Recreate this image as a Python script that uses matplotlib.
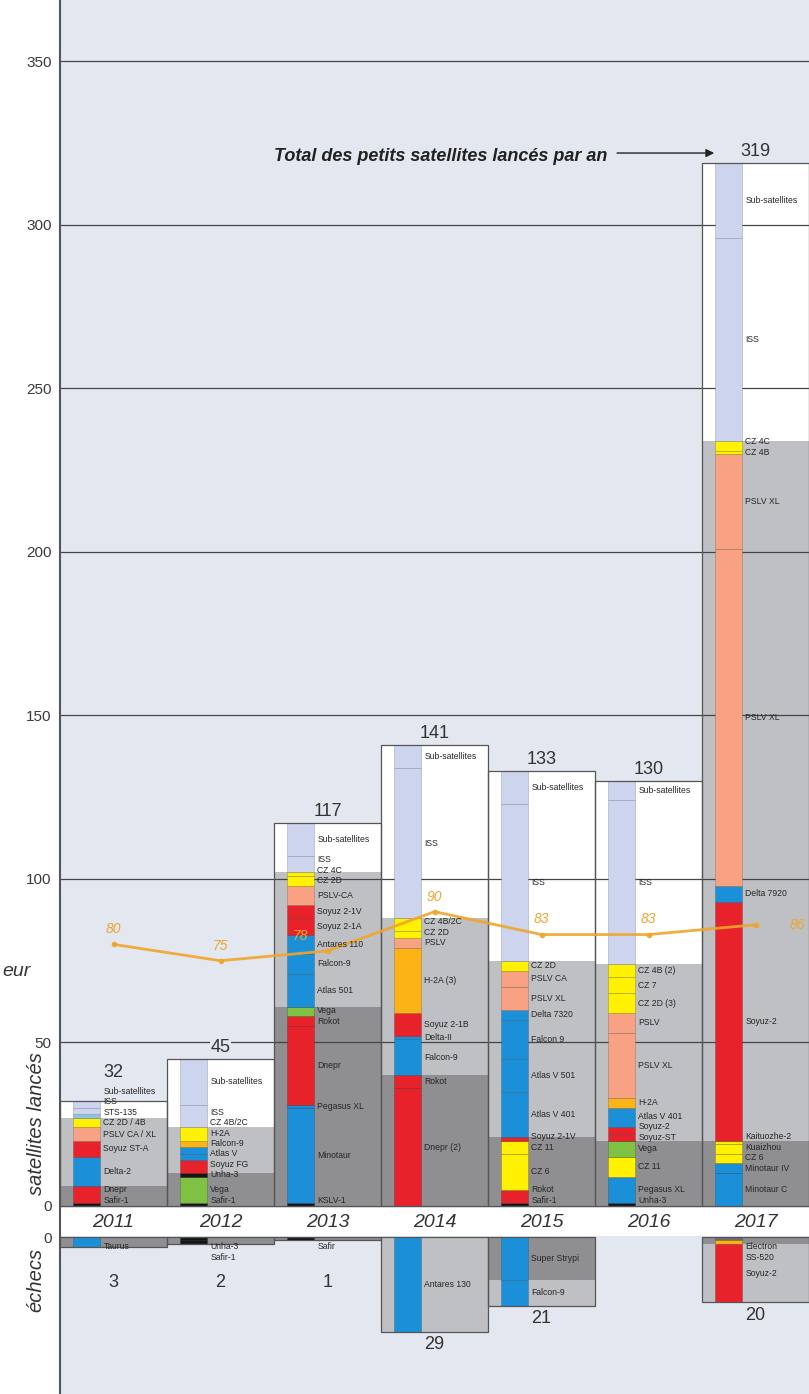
import matplotlib
matplotlib.use('Agg')
import matplotlib.pyplot as plt

plt.rcParams['font.family'] = ['Liberation Sans', 'DejaVu Sans']

years = ['2011', '2012', '2013', '2014', '2015', '2016', '2017']
totals = [32, 45, 117, 141, 133, 130, 319]
fail_totals = [3, 2, 1, 29, 21, 0, 20]
average = [80, 75, 78, 90, 83, 83, 86]

# (lanceur, nombre, pays, groupe) - groupe : d = dedie, r = passager, i = ISS / sous-satellites
launches_2011 = [
    ('Safir-1', 1, 'ir', 'd'),
    ('Dnepr', 5, 'ru', 'd'),
    ('Delta-2', 9, 'us', 'r'),
    ('Soyuz ST-A', 5, 'ru', 'r'),
    ('PSLV CA / XL', 4, 'in', 'r'),
    ('CZ 2D / 4B', 3, 'cn', 'r'),
    ('STS-135', 1, 'sts', 'i'),
    ('ISS', 2, 'iss', 'i'),
    ('Sub-satellites', 2, 'iss', 'i'),
]
launches_2012 = [
    ('Safir-1', 1, 'ir', 'd'),
    ('Vega', 8, 'eu', 'd'),
    ('Unha-3', 1, 'kp', 'd'),
    ('Soyuz FG', 4, 'ru', 'r'),
    ('Atlas V', 2, 'us', 'r'),
    ('Falcon-9', 2, 'us', 'r'),
    ('H-2A', 2, 'jp', 'r'),
    ('CZ 4B/2C', 4, 'cn', 'r'),
    ('ISS', 7, 'iss', 'i'),
    ('Sub-satellites', 14, 'iss', 'i'),
]
launches_2013 = [
    ('KSLV-1', 1, 'kr', 'd'),
    ('Minotaur', 29, 'us', 'd'),
    ('Pegasus XL', 1, 'us', 'd'),
    ('Dnepr', 24, 'ru', 'd'),
    ('Rokot', 3, 'ru', 'd'),
    ('Vega', 3, 'eu', 'd'),
    ('Atlas 501', 10, 'us', 'r'),
    ('Falcon-9', 6, 'us', 'r'),
    ('Antares 110', 6, 'us', 'r'),
    ('Soyuz 2-1A', 5, 'ru', 'r'),
    ('Soyuz 2-1V', 4, 'ru', 'r'),
    ('PSLV-CA', 6, 'in', 'r'),
    ('CZ 2D', 3, 'cn', 'r'),
    ('CZ 4C', 1, 'cn', 'r'),
    ('ISS', 5, 'iss', 'i'),
    ('Sub-satellites', 10, 'iss', 'i'),
]
launches_2014 = [
    ('Dnepr (2)', 36, 'ru', 'd'),
    ('Rokot', 4, 'ru', 'd'),
    ('Falcon-9', 11, 'us', 'r'),
    ('Delta-II', 1, 'us', 'r'),
    ('Soyuz 2-1B', 7, 'ru', 'r'),
    ('H-2A (3)', 20, 'jp', 'r'),
    ('PSLV', 3, 'in', 'r'),
    ('CZ 2D', 2, 'cn', 'r'),
    ('CZ 4B/2C', 4, 'cn', 'r'),
    ('ISS', 46, 'iss', 'i'),
    ('Sub-satellites', 7, 'iss', 'i'),
]
launches_2015 = [
    ('Safir-1', 1, 'ir', 'd'),
    ('Rokot', 4, 'ru', 'd'),
    ('CZ 6', 11, 'cn', 'd'),
    ('CZ 11', 4, 'cn', 'd'),
    ('Soyuz 2-1V', 1, 'ru', 'd'),
    ('Atlas V 401', 14, 'us', 'r'),
    ('Atlas V 501', 10, 'us', 'r'),
    ('Falcon 9', 12, 'us', 'r'),
    ('Delta 7320', 3, 'us', 'r'),
    ('PSLV XL', 7, 'in', 'r'),
    ('PSLV CA', 5, 'in', 'r'),
    ('CZ 2D', 3, 'cn', 'r'),
    ('ISS', 48, 'iss', 'i'),
    ('Sub-satellites', 10, 'iss', 'i'),
]
launches_2016 = [
    ('Unha-3', 1, 'kp', 'd'),
    ('Pegasus XL', 8, 'us', 'd'),
    ('CZ 11', 6, 'cn', 'd'),
    ('Vega', 5, 'eu', 'd'),
    ('Soyuz-ST', 2, 'ru', 'r'),
    ('Soyuz-2', 2, 'ru', 'r'),
    ('Atlas V 401', 6, 'us', 'r'),
    ('H-2A', 3, 'jp', 'r'),
    ('PSLV XL', 20, 'in', 'r'),
    ('PSLV', 6, 'in', 'r'),
    ('CZ 2D (3)', 6, 'cn', 'r'),
    ('CZ 7', 5, 'cn', 'r'),
    ('CZ 4B (2)', 4, 'cn', 'r'),
    ('ISS', 50, 'iss', 'i'),
    ('Sub-satellites', 6, 'iss', 'i'),
]
launches_2017 = [
    ('Minotaur C', 10, 'us', 'd'),
    ('Minotaur IV', 3, 'us', 'd'),
    ('CZ 6', 3, 'cn', 'd'),
    ('Kuaizhou', 3, 'cn', 'd'),
    ('Kaituozhe-2', 1, 'cn', 'd'),
    ('Soyuz-2', 73, 'ru', 'r'),
    ('Delta 7920', 5, 'us', 'r'),
    ('PSLV XL', 103, 'in', 'r'),
    ('PSLV XL', 29, 'in', 'r'),
    ('CZ 4B', 1, 'cn', 'r'),
    ('CZ 4C', 3, 'cn', 'r'),
    ('ISS', 62, 'iss', 'i'),
    ('Sub-satellites', 23, 'iss', 'i'),
]

# echecs
fail_2011 = [('Taurus', 3, 'us', 'd')]
fail_2012 = [('Unha-3', 1, 'kp', 'd'), ('Safir-1', 1, 'ir', 'd')]
fail_2013 = [('Safir', 1, 'ir', 'd')]
fail_2014 = [('Antares 130', 29, 'us', 'r')]
fail_2015 = [('Super Strypi', 13, 'us', 'd'), ('Falcon-9', 8, 'us', 'r')]
fail_2016 = []
fail_2017 = [('Electron', 1, 'nz', 'd'), ('SS-520', 1, 'jp', 'd'), ('Soyuz-2', 18, 'ru', 'r')]

launches = [launches_2011, launches_2012, launches_2013, launches_2014,
            launches_2015, launches_2016, launches_2017]
fails = [fail_2011, fail_2012, fail_2013, fail_2014, fail_2015, fail_2016, fail_2017]

palette = {'ru': '#e8222b', 'us': '#1b8fd8', 'cn': '#fff100', 'jp': '#fbb316',
           'in': '#f8a283', 'eu': '#7ec143', 'ir': '#151515', 'kp': '#151515',
           'kr': '#151515', 'iss': '#cdd5ee', 'sts': '#8ec3e6', 'nz': '#6d6d6d'}
bg = {'d': '#8f8f92', 'r': '#bfc0c3', 'i': '#ffffff'}
plot_bg = '#e3e7ef'
orange = '#f0a52b'

GAP = 9.5          # hauteur de la bande des annees
COL_L = -0.379     # colonne coloree dans chaque boite
COL_W = 0.253
LAB_X = -0.095
LAB_GAP = 3.2


def stack_labels(mids, start, gap, up=True):
    out = []
    for m in mids:
        if up:
            p = max(m, start) if not out else max(m, out[-1] + gap)
        else:
            p = min(m, start) if not out else min(m, out[-1] - gap)
        out.append(p)
    return out


fig = plt.figure(figsize=(8.09, 13.94), dpi=100)
ax = fig.add_axes([60 / 809, 0, 749 / 809, 1])
ax.set_facecolor(plot_bg)
ax.set_xlim(-0.5, 6.5)
ax.set_ylim(-57.5, 368.8)

grid = [50, 100, 150, 200, 250, 300, 350]
ax.hlines(grid, -0.5, 6.5, colors='#454545', lw=0.9, zorder=2)
ax.axhspan(-GAP + 0.3, -0.5, color='white', zorder=1.5, lw=0)

label_tops = []
for i, segs in enumerate(launches):
    bottom = 0
    mids = []
    for name, n, country, grp in segs:
        ax.bar(i - 0.5, n, width=1, bottom=bottom, align='edge', color=bg[grp], lw=0, zorder=1)
        ax.bar(i + COL_L, n, width=COL_W, bottom=bottom, align='edge', color=palette[country],
               edgecolor=(0, 0, 0, 0.22), lw=0.5, zorder=3)
        mids.append(bottom + n / 2)
        bottom += n
    ax.bar(i - 0.5, bottom, width=1, align='edge', fill=False, edgecolor='#555555', lw=0.9, zorder=4)
    ys = stack_labels(mids, 1.8, LAB_GAP)
    label_tops.append(ys)
    for (name, n, country, grp), y in zip(segs, ys):
        ax.text(i + LAB_X, y, name, fontsize=6.2, color='#262626', va='center', ha='left', zorder=6)
    top = max(totals[i], ys[-1] + 2)
    ax.text(i, top + 1, str(totals[i]), ha='center', va='bottom', fontsize=13, color='#333333',
            zorder=6, bbox=dict(facecolor=plot_bg, edgecolor='none', pad=0.5))

    # echecs
    fsegs = fails[i]
    if fsegs:
        depth = 0
        fmids = []
        for name, n, country, grp in fsegs:
            ax.bar(i - 0.5, -n, width=1, bottom=-GAP - depth, align='edge', color=bg[grp], lw=0, zorder=1)
            ax.bar(i + COL_L, -n, width=COL_W, bottom=-GAP - depth, align='edge', color=palette[country],
                   edgecolor=(0, 0, 0, 0.22), lw=0.5, zorder=3)
            fmids.append(-depth - n / 2)
            depth += n
        ax.bar(i - 0.5, -depth, width=1, bottom=-GAP, align='edge', fill=False,
               edgecolor='#555555', lw=0.9, zorder=4)
        fys = stack_labels(fmids, -3, LAB_GAP, up=False)
        for (name, n, country, grp), y in zip(fsegs, fys):
            ax.text(i + LAB_X, -GAP + y, name, fontsize=6.2, color='#262626', va='center', ha='left', zorder=6)
        ax.text(i, -GAP + min(-fail_totals[i] - 4, -14), str(fail_totals[i]), ha='center', va='center',
                fontsize=13, color='#333333', zorder=6)

    ax.text(i, -GAP / 2 - 0.2, years[i], ha='center', va='center', fontsize=14,
            style='italic', color='#333333', zorder=6)

# moyenne
xs = list(range(len(years)))
ax.plot(xs, average, color=orange, lw=2, marker='o', ms=3, alpha=0.9, zorder=5)
for i, v in enumerate(average):
    if i == len(average) - 1:
        ax.text(i + 0.39, v, str(v), color=orange, fontsize=10, style='italic',
                ha='center', va='center', zorder=6)
        continue
    # si la valeur tombe dans la zone des noms de lanceurs, on la pose sur la colonne
    busy = any(abs(y - (v + 5)) < 4 for y in label_tops[i]) and v < totals[i]
    lx = i + COL_L + COL_W / 2 if busy else i
    ax.text(lx, v + 2.5, str(v), color=orange, fontsize=10, style='italic',
            ha='center', va='bottom', zorder=6)

# titre + fleche
ax.text(4.62, totals[6] + 2, 'Total des petits satellites lancés par an', ha='right', va='center',
        fontsize=13, fontweight='bold', style='italic', color='#222222')
ax.annotate('', xy=(6 - 0.36, totals[6] + 3), xytext=(4.68, totals[6] + 3),
            arrowprops=dict(arrowstyle='-|>', color='#222222', lw=1, mutation_scale=12))

ax.set_yticks([-GAP] + [0] + grid)
ax.set_yticklabels(['0', '0'] + [str(g) for g in grid])
ax.tick_params(axis='y', length=0, pad=6, labelsize=11, labelcolor='#3a3a3a')
ax.set_xticks([])
for s in ['top', 'right', 'bottom']:
    ax.spines[s].set_visible(False)
ax.spines['left'].set_color('#555555')
ax.spines['left'].set_linewidth(1.5)

fig.text(36 / 809, 1 - 1124 / 1394, 'satellites lancés', rotation=90, ha='center', va='center',
         fontsize=14.5, style='italic', color='#333333')
fig.text(36 / 809, 1 - 1280 / 1394, 'échecs', rotation=90, ha='center', va='center',
         fontsize=14.5, style='italic', color='#333333')
fig.text(2 / 809, 1 - 972 / 1394, 'eur', ha='left', va='center',
         fontsize=14, style='italic', color='#333333')

fig.savefig('out.png', dpi=100, facecolor='white')
